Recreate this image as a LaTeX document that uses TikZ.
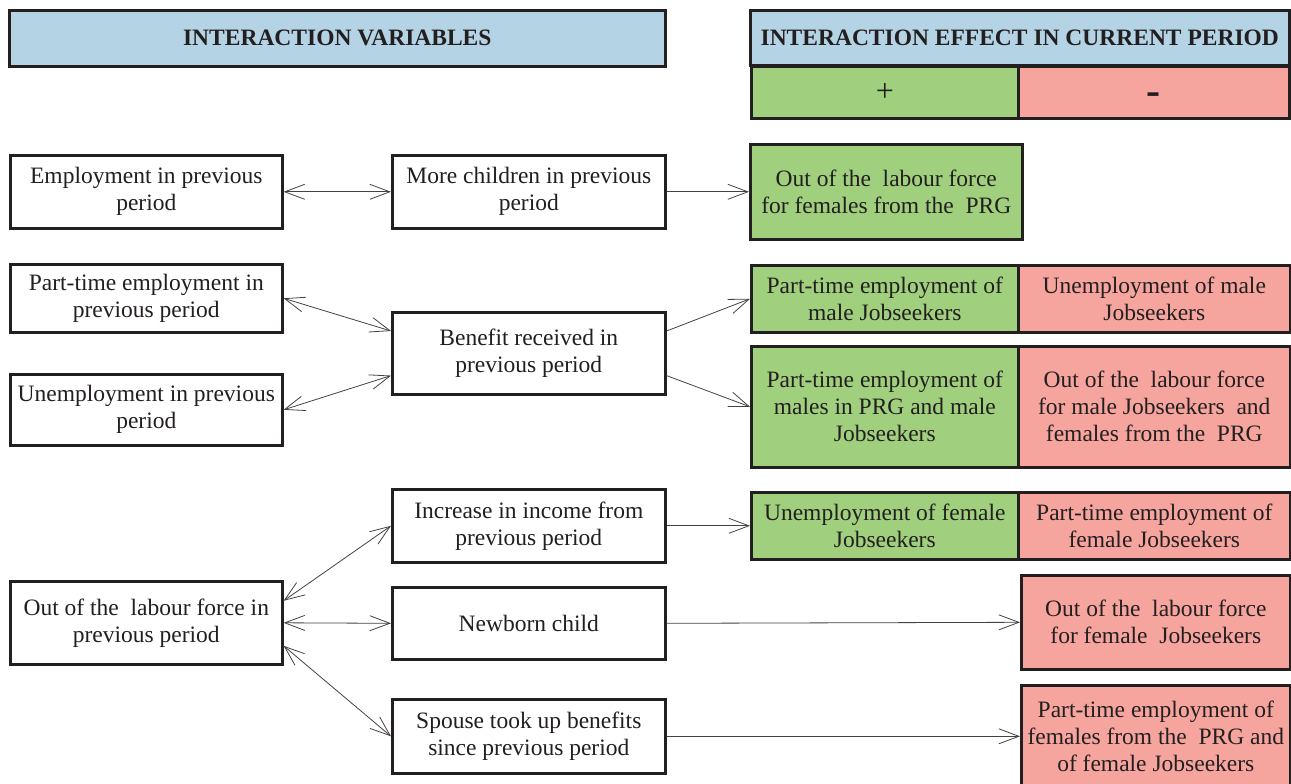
\documentclass[tikz,border=0pt]{standalone}
\usepackage{fontspec}
\setmainfont{Liberation Serif}
\usetikzlibrary{arrows.meta,calc}
\definecolor{ink}{RGB}{35,31,32}
\definecolor{headblue}{RGB}{180,212,230}
\definecolor{posgreen}{RGB}{160,208,126}
\definecolor{negpink}{RGB}{246,165,158}
\begin{document}
\begin{tikzpicture}[x=1pt,y=-1pt,
  box/.style={draw=ink,line width=2.6pt,fill=white,anchor=north west,align=center,
    inner sep=1pt,text=ink,font=\fontsize{23.5}{27}\selectfont},
  posbox/.style={box,fill=posgreen},
  negbox/.style={box,fill=negpink},
  headbox/.style={box,fill=headblue,font=\fontsize{23.5}{27}\selectfont\bfseries},
  link/.style={draw=ink!85,line width=0.8pt},
  barb/.tip={Straight Barb[length=20pt,width=15pt,line width=0.8pt]},
  uni/.style={link,-barb},
  bi/.style={link,barb-barb}]
\useasboundingbox (0,0) rectangle (1291,784);

% column headers
\node[headbox,minimum width=656,minimum height=56] (hvar) at (8,9) {INTERACTION VARIABLES};
\node[headbox,minimum width=539,minimum height=55] (heff) at (749,9) {INTERACTION EFFECT IN CURRENT PERIOD};
\node[posbox,minimum width=267,minimum height=52,font=\fontsize{32}{32}\selectfont] (hplus) at (750,65) {+};
\node[negbox,minimum width=271,minimum height=52,text height=24pt,text depth=0pt,
  font=\fontsize{42}{42}\selectfont\bfseries] (hminus) at (1017,65) {-};

% first group
\node[box,minimum width=272,minimum height=73] (emp) at (9,154) {Employment in previous\\period};
\node[box,minimum width=273,minimum height=73] (kids) at (391,154) {More children in previous\\period};
\node[posbox,minimum width=272,minimum height=95] (olfprg) at (749,143) {Out of the~ labour force\\for females from the~ PRG};

% second group
\node[box,minimum width=272,minimum height=68] (ptprev) at (9,263) {Part-time employment in\\previous period};
\node[box,minimum width=272,minimum height=71] (unprev) at (9,373) {Unemployment in previous\\period};
\node[box,minimum width=273,minimum height=82] (ben) at (391,311) {Benefit received in\\previous period};
\node[posbox,minimum width=267,minimum height=67] (ptmale) at (750,264) {Part-time employment of\\male Jobseekers};
\node[negbox,minimum width=272,minimum height=67] (unmale) at (1017,264) {Unemployment of male\\Jobseekers};
\node[posbox,minimum width=267,minimum height=121] (ptboth) at (750,345) {Part-time employment of\\males in PRG and male\\Jobseekers};
\node[negbox,minimum width=272,minimum height=121] (olfboth) at (1017,345) {Out of the~ labour force\\for male Jobseekers~ and\\females from the~ PRG};

% third group
\node[box,minimum width=272,minimum height=83] (olfprev) at (9,580) {Out of the~ labour force in\\previous period};
\node[box,minimum width=273,minimum height=73] (inc) at (391,488) {Increase in income from\\previous period};
\node[box,minimum width=273,minimum height=72] (born) at (391,586) {Newborn child};
\node[box,minimum width=273,minimum height=74] (spouse) at (391,698) {Spouse took up benefits\\since previous period};
\node[posbox,minimum width=267,minimum height=67] (unfem) at (750,491) {Unemployment of female\\Jobseekers};
\node[negbox,minimum width=272,minimum height=67] (ptfem) at (1017,491) {Part-time employment of\\female Jobseekers};
\node[negbox,minimum width=269,minimum height=94] (olffem) at (1020,574) {Out of the~ labour force\\for female~ Jobseekers};
\node[negbox,minimum width=269,minimum height=102] (ptprg) at (1020,684) {Part-time employment of\\females from the~ PRG and\\of female Jobseekers};

% connectors
\draw[bi] (emp.east) -- (kids.west);
\draw[uni] (kids.east) -- (olfprg.west);

\draw[bi] (ptprev.east) -- ($(ben.north west)+(0,20)$);
\draw[bi] (unprev.east) -- ($(ben.south west)+(0,-20)$);
\draw[uni] ($(ben.north east)+(0,20)$) -- (ptmale.west);
\draw[uni] ($(ben.south east)+(0,-20)$) -- (ptboth.west);

\draw[bi] ($(olfprev.east)+(0,-22)$) -- (inc.west);
\draw[bi] (olfprev.east) -- (born.west);
\draw[bi] ($(olfprev.east)+(0,23)$) -- (spouse.west);
\draw[uni] (inc.east) -- (unfem.west);
\draw[uni] (born.east) -- (olffem.west);
\draw[uni] (spouse.east) -- (ptprg.west);
\end{tikzpicture}
\end{document}
